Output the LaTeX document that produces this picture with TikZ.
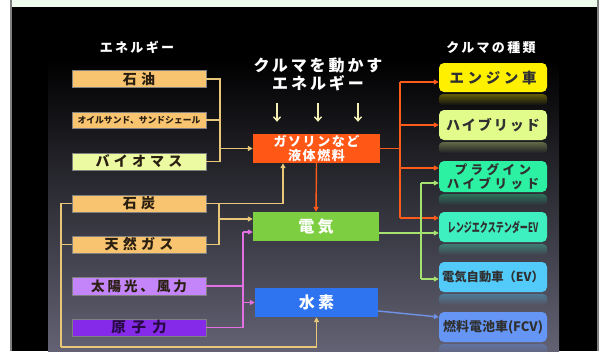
\documentclass[tikz,border=0pt]{standalone}
\usepackage{fontspec}
\setmainfont{Noto Sans CJK JP}
\usetikzlibrary{arrows.meta,fadings}
\definecolor{cOrangeBox}{RGB}{249,196,112}
\definecolor{cBio}{RGB}{236,250,162}
\definecolor{cSolar}{RGB}{196,132,250}
\definecolor{cNuc}{RGB}{132,42,232}
\definecolor{cGas}{RGB}{255,88,22}
\definecolor{cElec}{RGB}{126,206,66}
\definecolor{cHyd}{RGB}{46,116,240}
\definecolor{cEng}{RGB}{255,240,0}
\definecolor{cHyb}{RGB}{226,252,140}
\definecolor{cPlug}{RGB}{44,240,162}
\definecolor{cRange}{RGB}{62,240,192}
\definecolor{cEV}{RGB}{82,202,250}
\definecolor{cFCV}{RGB}{102,150,245}
\definecolor{lTan}{RGB}{232,200,120}
\definecolor{lPink}{RGB}{226,112,226}
\definecolor{lOrange}{RGB}{255,92,28}
\definecolor{lGreen}{RGB}{166,226,112}
\definecolor{lBlue}{RGB}{112,146,230}
\definecolor{lDown}{RGB}{246,240,182}
\definecolor{txtDark}{RGB}{42,32,18}
\definecolor{txtR}{RGB}{48,48,48}
\definecolor{bgBot}{RGB}{98,98,116}
\definecolor{bgMid}{RGB}{26,26,46}
\definecolor{band}{RGB}{238,252,238}
\begin{document}
\begin{tikzpicture}[x=1pt,y=-1pt,
  lbox/.style={minimum width=134pt,minimum height=17pt,inner sep=0pt,draw=black!50,line width=0.4pt,text=txtDark,
    font=\bfseries\fontsize{14}{14}\selectfont\addfontfeatures{LetterSpace=30}},
  cbox/.style={minimum width=127pt,minimum height=29pt,inner sep=0pt,text=white,
    font=\bfseries\fontsize{16}{16}\selectfont\addfontfeatures{LetterSpace=20}},
  rbox/.style={rounded corners=5pt,minimum width=108pt,minimum height=30pt,inner sep=0pt,text=txtR,
    font=\bfseries\fontsize{14.5}{15}\selectfont\addfontfeatures{LetterSpace=25}},
  lbl/.style={text=white,inner sep=0pt,font=\bfseries\fontsize{13}{13}\selectfont\addfontfeatures{LetterSpace=18}},
  tip/.style={-{Triangle[length=5pt,width=5pt]}},
  tanl/.style={draw=lTan,line width=1.4pt},
  pinkl/.style={draw=lPink,line width=1.4pt},
  orl/.style={draw=lOrange,line width=1.4pt},
  grl/.style={draw=lGreen,line width=1.4pt},
  bll/.style={draw=lBlue,line width=1.4pt},
  darrow/.style={draw=lDown,line width=1.4pt,-{Straight Barb[length=4pt,width=7pt]}},
  refl/.style={opacity=0.35,path fading=south,rounded corners=4pt}
]
\useasboundingbox (0,0) rectangle (604,351);
% frame and background
\fill[white] (0,0) rectangle (604,351);
\fill[black] (12,0) rectangle (597,351);
\shade[top color=black,middle color=bgMid,bottom color=bgBot] (48,60) rectangle (559,351);
\fill[band] (12,0) rectangle (597,6.5);
\draw[gray,line width=1.2pt] (11,0) -- (11,351);
\draw[gray,line width=1.2pt] (598,0) -- (598,351);

% headings
\node[lbl] (hEnergy) at (137,47) {エネルギー};
\node[lbl] (hKind) at (491,48) {クルマの種類};
\node[text=white,inner sep=0pt,align=center,font=\bfseries\fontsize{16}{18}\selectfont\addfontfeatures{LetterSpace=18}] (title) at (318,74) {クルマを動かす\\エネルギー};

% left boxes
\node[lbox,fill=cOrangeBox] (oil) at (139,79) {石油};
\node[lbox,fill=cOrangeBox,minimum height=16pt,font=\bfseries\fontsize{8.8}{9}\selectfont] (oilsand) at (139,120) {オイルサンド、サンドシェール};
\node[lbox,fill=cBio] (bio) at (139,161.5) {バイオマス};
\node[lbox,fill=cOrangeBox] (coal) at (139,203.5) {石炭};
\node[lbox,fill=cOrangeBox] (natgas) at (139,244.5) {天然ガス};
\node[lbox,fill=cSolar,minimum height=18pt,font=\bfseries\fontsize{13.5}{14}\selectfont\addfontfeatures{LetterSpace=22}] (solar) at (139,286) {太陽光、風力};
\node[lbox,fill=cNuc,text={rgb,255:red,40;green,10;blue,70},font=\bfseries\fontsize{14.5}{15}\selectfont\addfontfeatures{LetterSpace=40}] (nuclear) at (139,327.5) {原子力};

% center boxes
\node[cbox,fill=cGas,align=center,font=\bfseries\fontsize{13}{14.5}\selectfont\addfontfeatures{LetterSpace=12}] (gasoline) at (316.5,148.5) {ガソリンなど\\液体燃料};
\node[cbox,fill=cElec,minimum width=126pt] (elec) at (316,226.5) {電気};
\node[cbox,fill=cHyd,minimum width=123pt] (hyd) at (316.5,302.5) {水素};

% right boxes
\node[rbox,fill=cEng,minimum height=29pt] (engine) at (493,77.5) {エンジン車};
\node[rbox,fill=cHyb,font=\bfseries\fontsize{14}{14}\selectfont\addfontfeatures{LetterSpace=14}] (hybrid) at (493,125) {ハイブリッド};
\node[rbox,fill=cPlug,minimum height=31pt,align=center,font=\bfseries\fontsize{12.5}{14}\selectfont\addfontfeatures{LetterSpace=28}] (plugin) at (493,176.5) {プラグイン\\ハイブリッド};
\node[rbox,fill=cRange,font=\bfseries\fontsize{13}{13}\selectfont] (rangeext) at (493,227) {\scalebox{0.62}[1]{レンジエクステンダーEV}};
\node[rbox,fill=cEV,font=\bfseries\fontsize{12.3}{13}\selectfont] (ev) at (493,277) {電気自動車（EV）};
\node[rbox,fill=cFCV,font=\bfseries\fontsize{13}{13}\selectfont] (fcv) at (493,327) {燃料電池車(FCV)};

% reflections
\foreach \n/\c in {engine/cEng,hybrid/cHyb,plugin/cPlug,rangeext/cRange,ev/cEV,fcv/cFCV}{
  \fill[\c,refl] ([yshift=-2pt]\n.south west) rectangle ([yshift=-13pt]\n.south east);
}

% tan connectors (oil group)
\coordinate (jA) at (220,148.5);
\draw[tanl] (oil.east) -| (jA);
\draw[tanl] (bio.east) -| (jA);
\draw[tanl] (oilsand.east) -- (oilsand.east -| jA);
\draw[tanl,tip] (jA) -- (gasoline.west);

% coal / gas
\coordinate (jB) at (219,219);
\draw[tanl] (coal.east) -| (jB);
\draw[tanl] (natgas.east) -| (jB);
\draw[tanl,tip] (jB) -- (jB -| elec.west);
\draw[tanl,tip] (coal.east) -| ([xshift=-33.5pt]gasoline.south);
\coordinate (jC) at (61,347);
\draw[tanl] (coal.west) -| (jC);
\draw[tanl] (natgas.west) -- (natgas.west -| jC);
\draw[tanl,tip] (jC) -| (hyd.south);

% pink connectors
\coordinate (jD) at (243,232);
\draw[pinkl] (nuclear.east) -| (jD);
\draw[pinkl] (solar.east) -- (solar.east -| jD);
\draw[pinkl,tip] (jD) -- (jD -| elec.west);
\draw[pinkl,tip] (jD |- hyd.west) -- (hyd.west);

% orange connectors
\draw[orl,tip] (gasoline.south) -- (elec.north);
\coordinate (oT) at (400,82);
\coordinate (oP) at (400,168);
\coordinate (oB) at (400,218);
\draw[orl] (gasoline.east) -- (gasoline.east -| oT);
\draw[orl] (oT) -- (oB);
\draw[orl,tip] (oT) -- (oT -| engine.west);
\draw[orl,tip] (oT |- hybrid.west) -- (hybrid.west);
\draw[orl,tip] (oP) -- (oP -| plugin.west);
\draw[orl,tip] (oB) -- (oB -| rangeext.west);

% green connectors
\coordinate (gT) at (421,183);
\coordinate (gB) at (421,279);
\coordinate (gM) at ([yshift=-6.5pt]elec.east);
\draw[grl] (gT) -- (gB);
\draw[grl,tip] (gT) -- (gT -| plugin.west);
\draw[grl,tip] (gB) -- (gB -| ev.west);
\draw[grl,tip] (gM) -- (gM -| rangeext.west);

% blue connector
\draw[bll,tip] ([yshift=-8.5pt]hyd.east) -- ([yshift=10pt]fcv.west);

% down arrows
\foreach \dx in {-39.5,1.5,41.5}{
  \draw[darrow] ([xshift=\dx pt,yshift=31pt]gasoline.north) -- ([xshift=\dx pt,yshift=12pt]gasoline.north);
}
\end{tikzpicture}
\end{document}
